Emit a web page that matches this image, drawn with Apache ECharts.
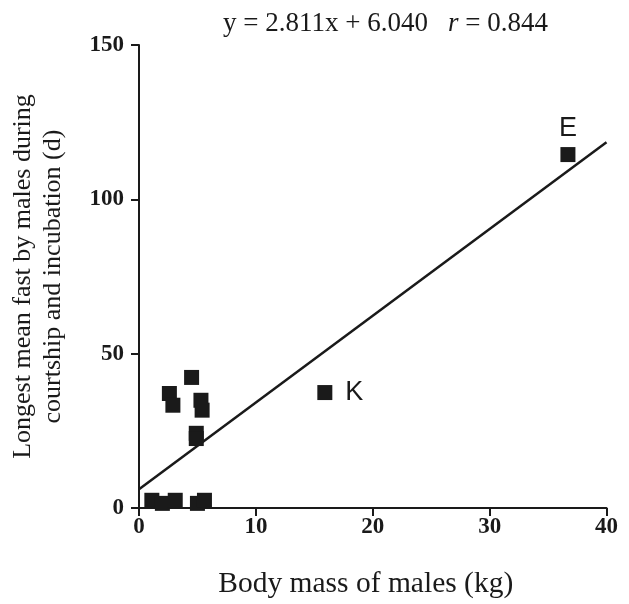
<!DOCTYPE html>
<html>
<head>
<meta charset="utf-8">
<script src="https://cdn.jsdelivr.net/npm/echarts@6/dist/echarts.min.js"></script>
<style>
html,body{margin:0;padding:0;background:#fff;}
#chart{width:629px;height:604px;}
</style>
</head>
<body>
<div id="chart"></div>
<script>
// Data
var massKg   = [1.1, 2.0, 3.1, 5.0, 5.6, 4.5, 2.6, 2.9, 5.3, 5.4, 4.9, 4.9, 15.9, 36.7];
var fastDays = [2.5, 1.5, 2.5, 1.5, 2.5, 42.3, 37.1, 33.3, 34.9, 31.7, 24.2, 22.5, 37.4, 114.5];
var pointTags = ['', '', '', '', '', '', '', '', '', '', '', '', 'K', 'E'];
var xTicks = [0, 10, 20, 30, 40];
var yTicks = [0, 50, 100, 150];
var slope = 2.811;
var intercept = 6.040;
var rValue = 0.844;
var lineRangeX = [0, 40];

var pts = massKg.map(function (x, i) {
  var item = { value: [x, fastDays[i]] };
  if (pointTags[i] === 'K') {
    item.label = { show: true, formatter: 'K', position: 'right', distance: 13 };
  } else if (pointTags[i] === 'E') {
    item.label = { show: true, formatter: 'E', position: 'top', distance: 5 };
  }
  return item;
});
var fitLine = lineRangeX.map(function (x) { return [x, slope * x + intercept]; });

var serif = '"Liberation Serif", "DejaVu Serif", serif';
var chart = echarts.init(document.getElementById('chart'), null, { renderer: 'canvas' });
chart.setOption({
  backgroundColor: '#ffffff',
  animation: false,
  title: {
    text: '{a|y = ' + slope.toFixed(3) + 'x + ' + intercept.toFixed(3) + '}    {b|r}{a| = ' + rValue.toFixed(3) + '}',
    left: 218, top: 5,
    textStyle: {
      fontWeight: 'normal',
      rich: {
        a: { fontFamily: serif, fontSize: 27, fontWeight: 'normal', color: '#1a1a1a' },
        b: { fontFamily: serif, fontSize: 27, fontWeight: 'normal', fontStyle: 'italic', color: '#1a1a1a' }
      }
    }
  },
  grid: { left: 139, right: 22.5, top: 45, bottom: 94, containLabel: false },
  xAxis: {
    type: 'value', min: 0, max: 40, interval: 10,
    name: 'Body mass of males (kg)', nameLocation: 'middle', nameGap: 61,
    nameTextStyle: { fontFamily: serif, fontSize: 29.5, color: '#1a1a1a', padding: [0, 14, 0, 0] },
    axisLine: { show: true, onZero: false, lineStyle: { color: '#1a1a1a', width: 2 } },
    axisTick: { show: true, inside: false, length: 8, lineStyle: { color: '#1a1a1a', width: 2 } },
    axisLabel: { margin: 8, fontFamily: serif, fontWeight: 'bold', fontSize: 23, color: '#1a1a1a',
      formatter: function (v) { return xTicks.indexOf(v) >= 0 ? String(v) : ''; } },
    splitLine: { show: false }
  },
  yAxis: {
    type: 'value', min: 0, max: 150, interval: 50,
    name: 'Longest mean fast by males during\ncourtship and incubation (d)',
    nameLocation: 'middle', nameGap: 71, nameRotate: 90,
    nameTextStyle: { fontFamily: serif, fontSize: 26, lineHeight: 30, color: '#1a1a1a' },
    axisLine: { show: true, onZero: false, lineStyle: { color: '#1a1a1a', width: 2 } },
    axisTick: { show: true, inside: false, length: 8, lineStyle: { color: '#1a1a1a', width: 2 } },
    axisLabel: { margin: 15, fontFamily: serif, fontWeight: 'bold', fontSize: 23, color: '#1a1a1a',
      formatter: function (v) { return yTicks.indexOf(v) >= 0 ? String(v) : ''; } },
    splitLine: { show: false }
  },
  series: [
    {
      type: 'line', data: fitLine, symbol: 'none', silent: true,
      lineStyle: { color: '#1a1a1a', width: 2.5 }, z: 2
    },
    {
      type: 'scatter', data: pts, symbol: 'rect', symbolSize: 15,
      itemStyle: { color: '#1a1a1a', opacity: 1 },
      label: { show: false, fontFamily: '"Liberation Sans", Arial, sans-serif', fontSize: 27, color: '#1a1a1a' },
      z: 3
    }
  ]
});
</script>
</body>
</html>
